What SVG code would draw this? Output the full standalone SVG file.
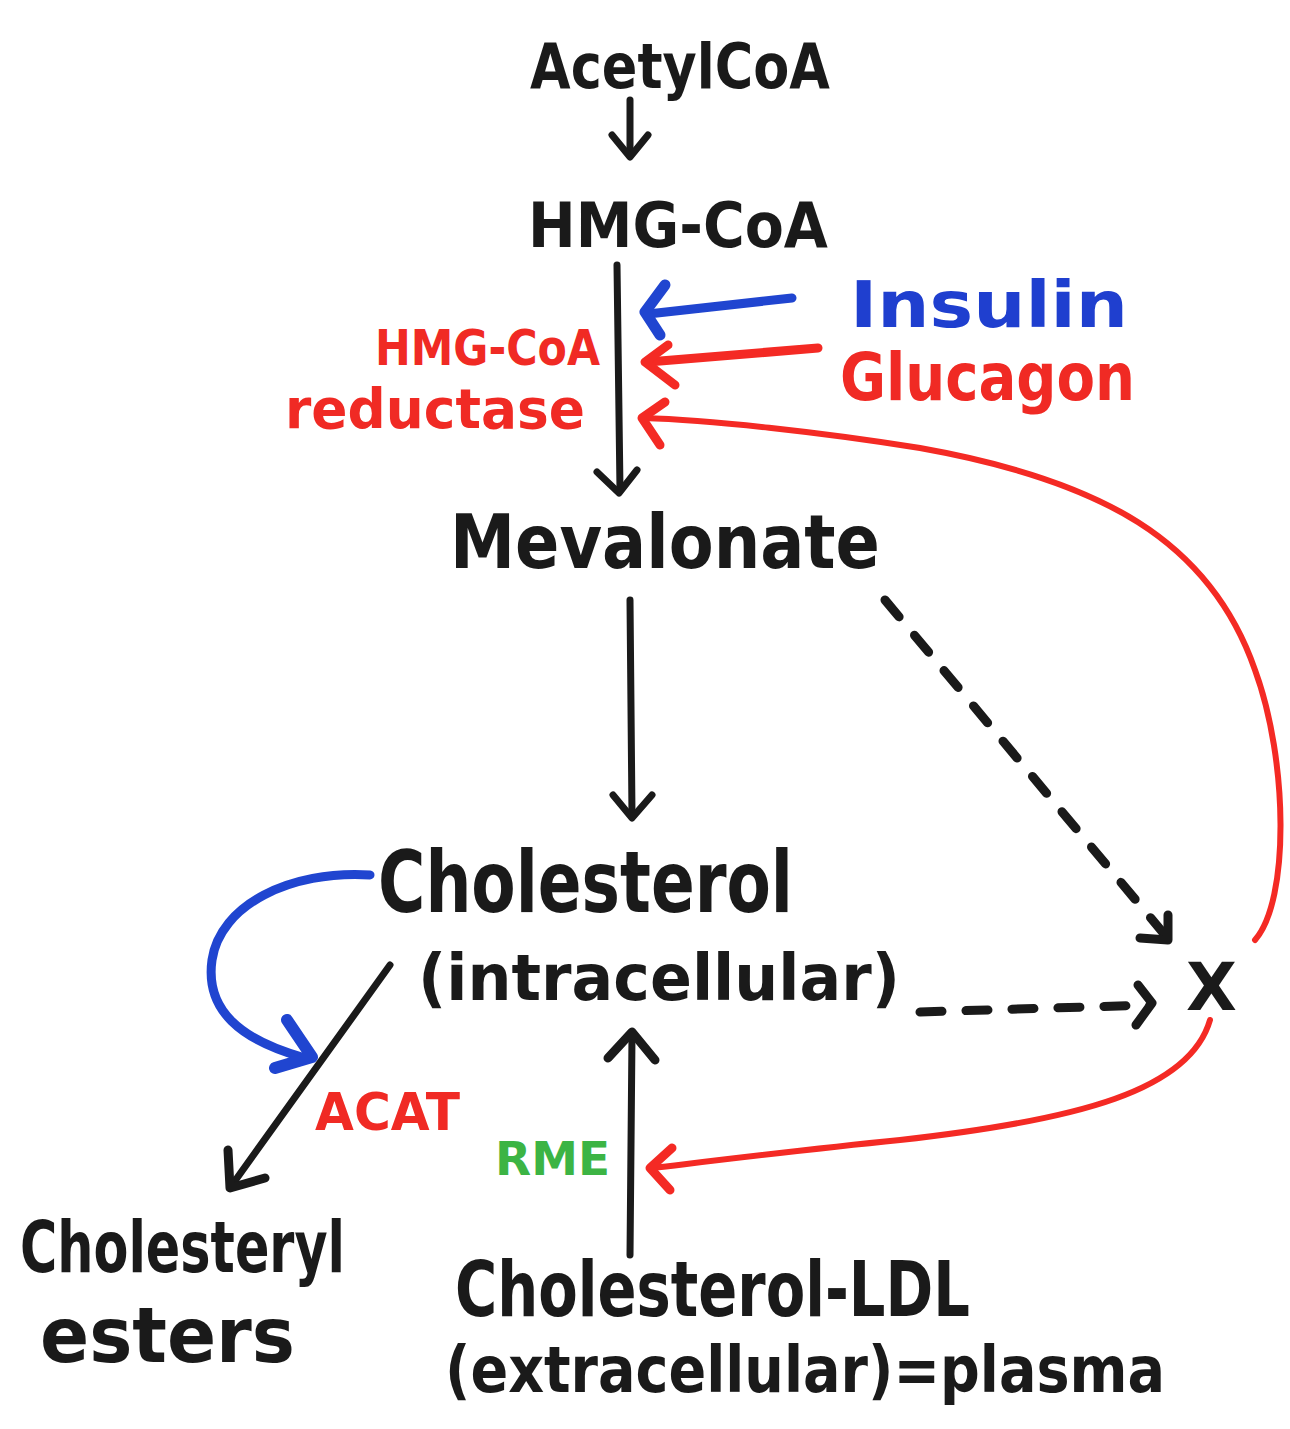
<svg xmlns="http://www.w3.org/2000/svg" width="1290" height="1429" viewBox="0 0 1290 1429">
  <style>
    .lbl { font-family: "DejaVu Sans", "Liberation Sans", sans-serif; font-weight: bold; }
    .blk { fill: #1a1a1a; }
    .red { fill: #f02a24; }
    .blu { fill: #1f3fcf; }
    .grn { fill: #3cb444; }
    .ln { fill: none; stroke-linecap: round; stroke-linejoin: round; }
    .k { stroke: #1a1a1a; stroke-width: 7; }
    .r { stroke: #f42a24; stroke-width: 6; }
    .b { stroke: #2045d0; stroke-width: 9; }
    .d { stroke-dasharray: 22 24; stroke-width: 9; }
  </style>
  <rect width="1290" height="1429" fill="#ffffff"/>

  <!-- connectors -->
  <g id="connectors">
    <!-- AcetylCoA to HMG-CoA -->
    <path class="ln k" d="M630,100 L630,155"/>
    <path class="ln k" d="M612,135 L630,157 L648,135"/>
    <!-- HMG-CoA to Mevalonate -->
    <path class="ln k" d="M617,265 L620,490"/>
    <path class="ln k" d="M597,472 L619,493 L637,470"/>
    <!-- Insulin -->
    <path class="ln b" d="M792,298 L648,314"/>
    <path class="ln b" style="stroke-width:11" d="M665,285 L645,312 L660,335"/>
    <!-- Glucagon -->
    <path class="ln r" style="stroke-width:9" d="M818,348 L648,362"/>
    <path class="ln r" style="stroke-width:9" d="M668,345 L645,362 L675,385"/>
    <!-- feedback from X to reductase -->
    <path class="ln r" d="M1255,940 C1290,900 1288,760 1255,670 C1210,540 1100,480 920,448 C820,432 710,420 643,418"/>
    <path class="ln r" style="stroke-width:9" d="M665,402 L642,418 L660,445"/>
    <!-- Mevalonate to Cholesterol -->
    <path class="ln k" d="M630,600 L632,815"/>
    <path class="ln k" d="M613,795 L632,818 L652,795"/>
    <!-- Mevalonate to X, dashed -->
    <path class="ln k d" d="M885,600 L1165,935"/>
    <path class="ln k" style="stroke-width:9" d="M1168,915 L1168,940 L1140,938"/>
    <!-- intracellular to X, dashed -->
    <path class="ln k d" d="M920,1012 L1150,1005"/>
    <path class="ln k" style="stroke-width:9" d="M1138,985 L1152,1003 L1136,1025"/>
    <!-- X to RME -->
    <path class="ln r" d="M1210,1020 C1190,1090 1080,1120 900,1140 C800,1150 720,1160 653,1168"/>
    <path class="ln r" style="stroke-width:9" d="M672,1148 L650,1168 L670,1190"/>
    <!-- Cholesterol to Cholesteryl esters (ACAT) -->
    <path class="ln k" d="M390,965 L232,1185"/>
    <path class="ln k" style="stroke-width:9" d="M228,1150 L230,1188 L265,1178"/>
    <!-- blue feedback loop -->
    <path class="ln b" d="M370,875 C290,870 220,905 212,960 C205,1010 240,1040 305,1058"/>
    <path class="ln b" style="stroke-width:12" d="M287,1020 L312,1057 L275,1068"/>
    <!-- LDL to intracellular (RME) -->
    <path class="ln k" d="M630,1255 L632,1035"/>
    <path class="ln k" style="stroke-width:9" d="M608,1058 L632,1032 L655,1060"/>
  </g>

  <g id="acetylcoa"><text class="lbl blk" x="530" y="88" font-size="62" textLength="300" lengthAdjust="spacingAndGlyphs">AcetylCoA</text></g>
  <g id="hmgcoa"><text class="lbl blk" x="528" y="247" font-size="62" textLength="300" lengthAdjust="spacingAndGlyphs">HMG-CoA</text></g>
  <g id="reductase">
    <text class="lbl red" x="375" y="365" font-size="50" textLength="225" lengthAdjust="spacingAndGlyphs">HMG-CoA</text>
    <text class="lbl red" x="285" y="428" font-size="56" textLength="300" lengthAdjust="spacingAndGlyphs">reductase</text>
  </g>
  <g id="insulin"><text class="lbl blu" x="850" y="327" font-size="64" textLength="278" lengthAdjust="spacingAndGlyphs">Insulin</text></g>
  <g id="glucagon"><text class="lbl red" x="840" y="400" font-size="66" textLength="295" lengthAdjust="spacingAndGlyphs">Glucagon</text></g>
  <g id="mevalonate"><text class="lbl blk" x="450" y="568" font-size="74" textLength="430" lengthAdjust="spacingAndGlyphs">Mevalonate</text></g>
  <g id="cholesterol">
    <text class="lbl blk" x="378" y="912" font-size="86" textLength="415" lengthAdjust="spacingAndGlyphs">Cholesterol</text>
    <text class="lbl blk" x="418" y="1000" font-size="64" textLength="482" lengthAdjust="spacingAndGlyphs">(intracellular)</text>
  </g>
  <g id="x-node"><text class="lbl blk" x="1186" y="1010" font-size="66">X</text></g>
  <g id="acat"><text class="lbl red" x="315" y="1130" font-size="52" textLength="145" lengthAdjust="spacingAndGlyphs">ACAT</text></g>
  <g id="rme"><text class="lbl grn" x="495" y="1175" font-size="46" textLength="115" lengthAdjust="spacingAndGlyphs">RME</text></g>
  <g id="esters">
    <text class="lbl blk" x="20" y="1272" font-size="72" textLength="325" lengthAdjust="spacingAndGlyphs">Cholesteryl</text>
    <text class="lbl blk" x="40" y="1362" font-size="76" textLength="255" lengthAdjust="spacingAndGlyphs">esters</text>
  </g>
  <g id="ldl">
    <text class="lbl blk" x="455" y="1316" font-size="76" textLength="515" lengthAdjust="spacingAndGlyphs">Cholesterol-LDL</text>
    <text class="lbl blk" x="445" y="1392" font-size="64" textLength="720" lengthAdjust="spacingAndGlyphs">(extracellular)=plasma</text>
  </g>
</svg>
